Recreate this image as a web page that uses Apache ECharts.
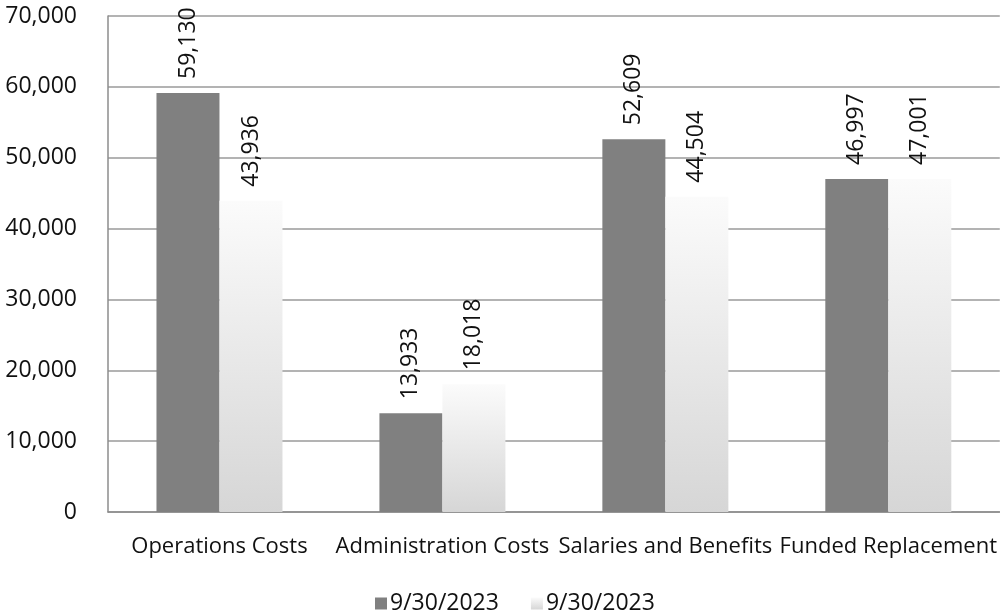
<!DOCTYPE html>
<html>
<head>
<meta charset="utf-8">
<script src="https://cdn.jsdelivr.net/npm/echarts@6/dist/echarts.min.js"></script>
<style>
  html, body { margin: 0; padding: 0; background: #fff; }
  #chart { width: 1000px; height: 614px; }
</style>
</head>
<body>
<div id="chart"></div>
<script>
// Expense categories and the two period values
const categories = ['Operations Costs', 'Administration Costs', 'Salaries and Benefits', 'Funded Replacement'];
const seriesNames = ['9/30/2023', '9/30/2023 '];
const currentValues = [59130, 13933, 52609, 46997];
const priorValues = [43936, 18018, 44504, 47001];

const fmt = v => v.toLocaleString('en-US');
const font = '"Open Sans", "Liberation Sans", sans-serif';

const chart = echarts.init(document.getElementById('chart'));

const valueLabel = {
  show: true,
  position: 'top',
  rotate: 90,
  align: 'left',
  verticalAlign: 'middle',
  distance: 14,
  color: '#111',
  fontSize: 23,
  fontFamily: font,
  formatter: p => fmt(p.value)
};

chart.setOption({
  animation: false,
  backgroundColor: '#fff',
  grid: { left: 108, right: 0, top: 16, bottom: 102, containLabel: false },
  legend: {
    top: 587,
    left: 370,
    itemWidth: 12,
    itemHeight: 12,
    itemGap: 32,
    icon: 'rect',
    textStyle: { fontSize: 23, color: '#111', fontFamily: font, padding: [0, 0, 0, -2] },
    data: seriesNames
  },
  xAxis: {
    type: 'category',
    data: categories,
    axisLine: { show: true, lineStyle: { color: '#8c8c8c', width: 1.5 } },
    axisTick: { show: false },
    axisLabel: { fontSize: 22, color: '#111', fontFamily: font, margin: 24, interval: 0 }
  },
  yAxis: {
    type: 'value',
    min: 0,
    max: 70000,
    interval: 10000,
    axisLine: { show: true, lineStyle: { color: '#8c8c8c', width: 1.5 } },
    axisTick: { show: false },
    splitLine: { lineStyle: { color: '#9a9a9a', width: 1.5 } },
    axisLabel: { fontSize: 23, color: '#111', fontFamily: font, margin: 31, formatter: v => fmt(v) }
  },
  series: [
    {
      name: seriesNames[0],
      type: 'bar',
      data: currentValues,
      barWidth: 63,
      barGap: '0%',
      itemStyle: { color: '#808080' },
      label: valueLabel
    },
    {
      name: seriesNames[1],
      type: 'bar',
      data: priorValues,
      barWidth: 63,
      barGap: '0%',
      itemStyle: {
        color: new echarts.graphic.LinearGradient(0, 0, 0, 1, [
          { offset: 0, color: '#fbfbfb' },
          { offset: 1, color: '#d6d6d6' }
        ])
      },
      label: valueLabel
    }
  ]
});
</script>
</body>
</html>
